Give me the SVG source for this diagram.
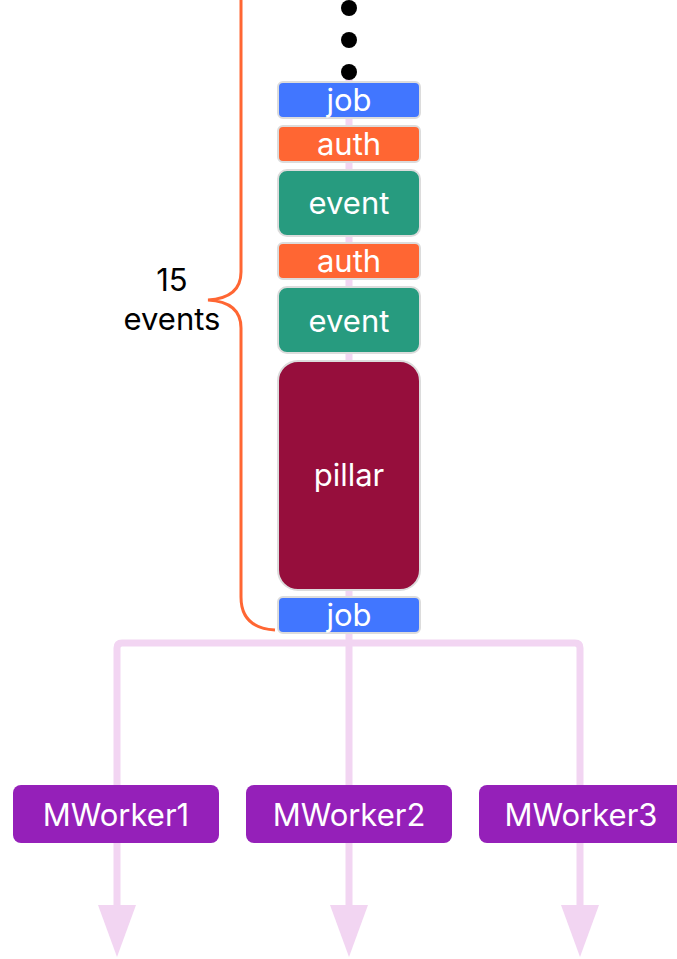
<svg xmlns="http://www.w3.org/2000/svg" width="677" height="959" viewBox="0 0 677 959">
  <style>
    .lbl { font-family: Inter, "Liberation Sans", sans-serif; font-size: 31px; fill: #ffffff; text-anchor: middle; }
    .box { stroke: #dcdcdc; stroke-width: 2; }
    .job { fill: #4176ff; }
    .auth { fill: #ff6633; }
    .event { fill: #279b7f; }
    .pillar { fill: #960e3c; }
    .worker { fill: #9520b9; }
    .wire { fill: none; stroke: #f2d5f2; stroke-width: 7; }
    .brace { fill: none; stroke: #ff6633; stroke-width: 3; }
    .note { font-family: Inter, "Liberation Sans", sans-serif; font-size: 31px; fill: #000000; text-anchor: middle; }
  </style>

  <rect width="677" height="959" fill="#ffffff"/>

  <!-- connectors -->
  <g id="connectors">
    <line class="wire" x1="349" y1="72" x2="349" y2="905"/>
    <path class="wire" d="M117 905 V648 Q117 643 122 643 H575 Q580 643 580 648 V905"/>
    <polygon fill="#f2d5f2" points="98,905 136,905 117,957"/>
    <polygon fill="#f2d5f2" points="330,905 368,905 349,957"/>
    <polygon fill="#f2d5f2" points="561,905 599,905 580,957"/>
  </g>

  <!-- brace spanning the event window -->
  <g id="brace">
    <path class="brace" d="M241 -5 V272 Q241 298 208 300 Q241 302 241 328 V597 Q241 628 275 630"/>
    <text class="note" x="172" y="291">15</text>
    <text class="note" x="172" y="330">events</text>
  </g>

  <!-- ellipsis dots -->
  <g id="more">
    <circle cx="349" cy="8" r="8" fill="#000"/>
    <circle cx="349" cy="40" r="8" fill="#000"/>
    <circle cx="349" cy="72" r="8" fill="#000"/>
  </g>

  <g id="job1">
    <rect class="box job" x="278" y="82" width="142" height="36" rx="5"/>
    <text class="lbl" x="349" y="111">job</text>
  </g>
  <g id="auth1">
    <rect class="box auth" x="278" y="126" width="142" height="36" rx="5"/>
    <text class="lbl" x="349" y="155">auth</text>
  </g>
  <g id="event1">
    <rect class="box event" x="278" y="170" width="142" height="66" rx="9"/>
    <text class="lbl" x="349" y="214">event</text>
  </g>
  <g id="auth2">
    <rect class="box auth" x="278" y="243" width="142" height="36" rx="5"/>
    <text class="lbl" x="349" y="272">auth</text>
  </g>
  <g id="event2">
    <rect class="box event" x="278" y="287" width="142" height="66" rx="9"/>
    <text class="lbl" x="349" y="332">event</text>
  </g>
  <g id="pillar">
    <rect class="box pillar" x="278" y="361" width="142" height="229" rx="20"/>
    <text class="lbl" x="349" y="486">pillar</text>
  </g>
  <g id="job2">
    <rect class="box job" x="278" y="597" width="142" height="36" rx="5"/>
    <text class="lbl" x="349" y="626">job</text>
  </g>

  <g id="mworker1">
    <rect class="worker" x="13" y="785" width="206" height="58" rx="8"/>
    <text class="lbl" x="116" y="826">MWorker1</text>
  </g>
  <g id="mworker2">
    <rect class="worker" x="246" y="785" width="206" height="58" rx="8"/>
    <text class="lbl" x="349" y="826">MWorker2</text>
  </g>
  <g id="mworker3">
    <rect class="worker" x="479" y="785" width="206" height="58" rx="8"/>
    <text class="lbl" x="581" y="826">MWorker3</text>
  </g>
</svg>
